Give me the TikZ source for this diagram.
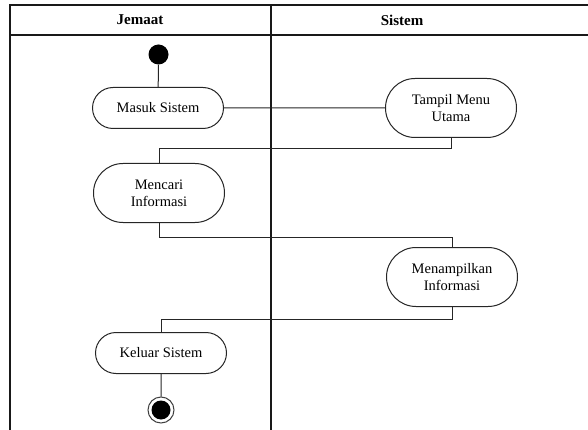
\documentclass[tikz,border=0pt]{standalone}
\usepackage{fontspec}
\setmainfont{Liberation Serif}
\usetikzlibrary{shapes.misc}

\begin{document}
\begin{tikzpicture}[x=1pt,y=-1pt,
  act/.style={rounded rectangle,draw=black!85,line width=1pt,fill=white,align=center,
    font=\fontsize{14.5}{17}\selectfont,inner sep=0pt,minimum width=131pt,minimum height=41pt},
  tall/.style={minimum height=59pt},
  lane/.style={font=\fontsize{15}{17}\selectfont\bfseries},
  frame/.style={line width=1.1pt,black!90},
  flow/.style={line width=1pt,black!85},
  startdot/.style={circle,fill=black,inner sep=0pt,minimum size=20pt},
  enddot/.style={circle,draw=black!75,line width=1pt,fill=white,inner sep=0pt,minimum size=26pt,
    path picture={\fill[black] (path picture bounding box.center) circle (9.5pt);}}]
  \useasboundingbox (0,0) rectangle (588,430);
  % swimlanes
  \draw[frame] (10,430) -- (10,5) -- (588,5);
  \draw[frame] (10,35) -- (588,35);
  \draw[frame] (271,5) -- (271,430);
  \node[lane] (jemaat) at (140,20) {Jemaat};
  \node[lane] (sistem) at (402,20) {Sistem};
  % activities
  \node[startdot] (start) at (158.5,54.5) {};
  \node[act] (masuk) at (158,108) {Masuk Sistem};
  \node[act,tall] (tampil) at (451,108) {Tampil Menu\\Utama};
  \node[act,tall] (cari) at (159,193) {Mencari\\Informasi};
  \node[act,tall] (tampilinfo) at (452,277) {Menampilkan\\Informasi};
  \node[act] (keluar) at (161,353) {Keluar Sistem};
  \node[enddot] (end) at (161,410) {};
  % flows
  \draw[flow] (start) -- (masuk);
  \draw[flow] (masuk) -- (tampil);
  \draw[flow] (tampil.south) -- ++(0,11) -| (cari.north);
  \draw[flow] (cari.south) -- ++(0,14) -| (tampilinfo.north);
  \draw[flow] (tampilinfo.south) -- ++(0,12) -| (keluar.north);
  \draw[flow] (keluar) -- (end);
\end{tikzpicture}
\end{document}
